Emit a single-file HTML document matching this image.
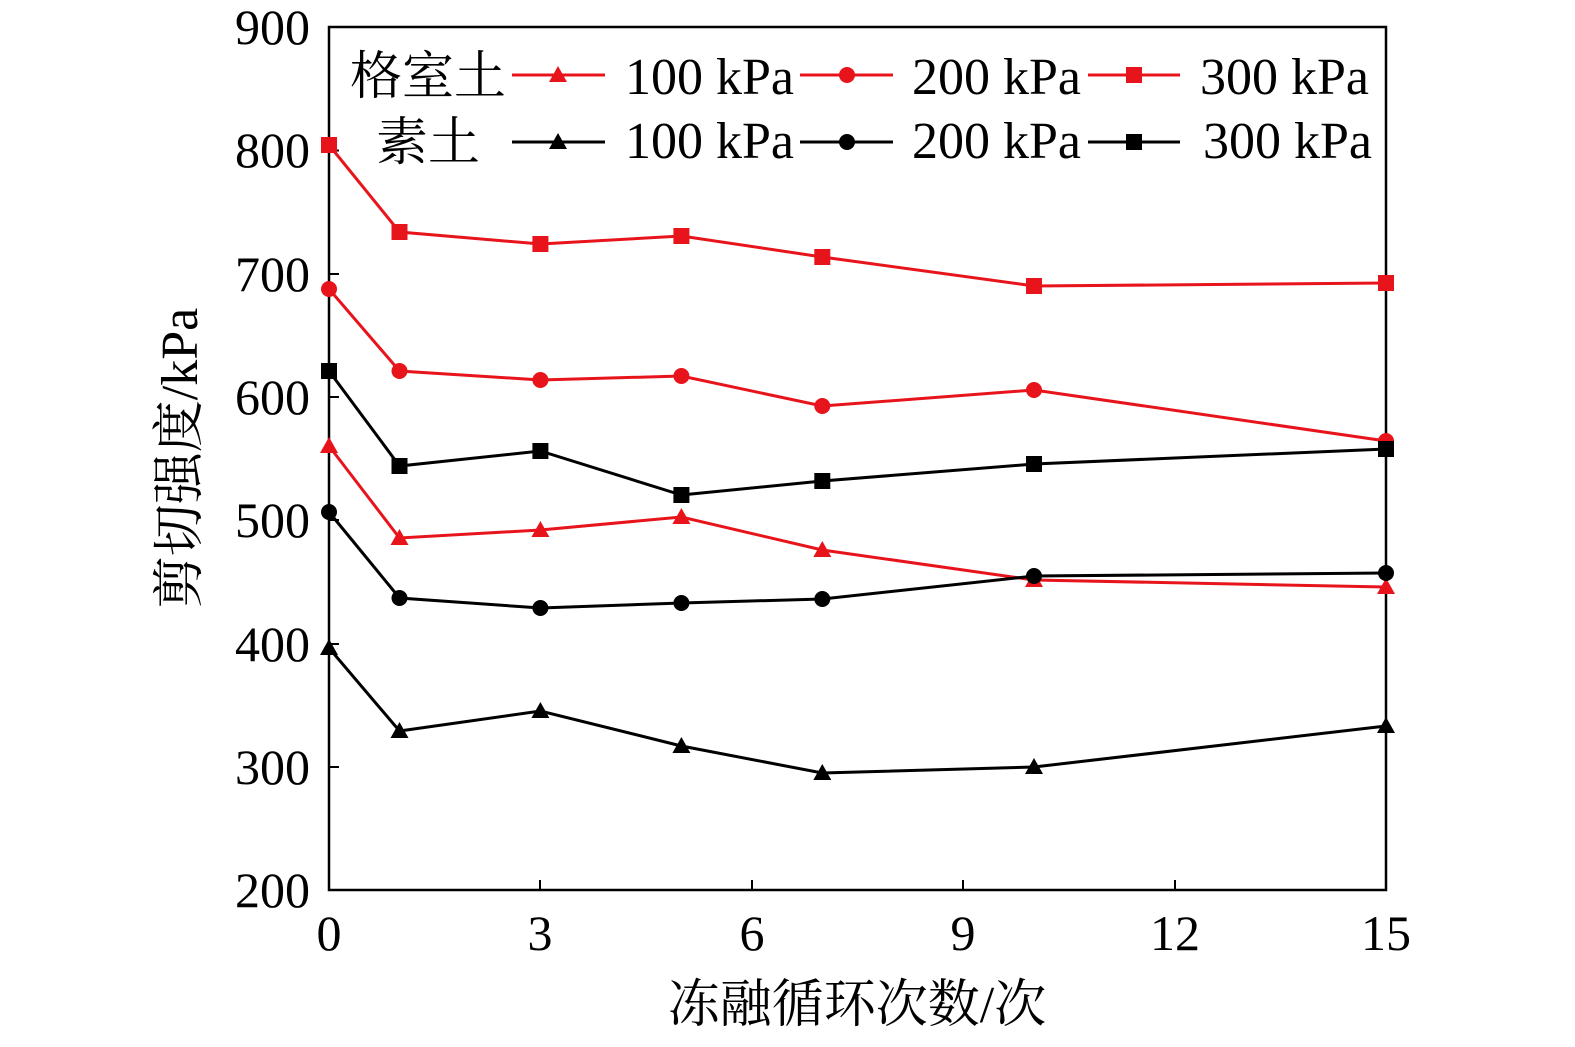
<!DOCTYPE html>
<html><head><meta charset="utf-8"><style>
html,body{margin:0;padding:0;background:#fff;}
svg text{font-family:"Liberation Serif","Noto Serif CJK SC",serif;fill:#000;}
</style></head><body>
<svg width="1575" height="1042" viewBox="0 0 1575 1042" xmlns="http://www.w3.org/2000/svg">
<defs>
<path id="tri" d="M-9,7 L9,7 L0,-9 Z"/>
</defs>
<rect x="329" y="27" width="1057" height="863" fill="none" stroke="#000" stroke-width="2.5"/>
<g stroke="#000" stroke-width="2">
<line x1="329" y1="150.5" x2="339" y2="150.5"/>
<line x1="329" y1="274" x2="339" y2="274"/>
<line x1="329" y1="397" x2="339" y2="397"/>
<line x1="329" y1="520" x2="339" y2="520"/>
<line x1="329" y1="644" x2="339" y2="644"/>
<line x1="329" y1="767" x2="339" y2="767"/>
<line x1="540" y1="890" x2="540" y2="880"/>
<line x1="752" y1="890" x2="752" y2="880"/>
<line x1="963" y1="890" x2="963" y2="880"/>
<line x1="1175" y1="890" x2="1175" y2="880"/>
</g>
<g font-size="50" text-anchor="end">
<text x="310" y="44">900</text>
<text x="310" y="167">800</text>
<text x="310" y="291">700</text>
<text x="310" y="414">600</text>
<text x="310" y="537">500</text>
<text x="310" y="661">400</text>
<text x="310" y="784">300</text>
<text x="310" y="907">200</text>
</g>
<g font-size="50" text-anchor="middle">
<text x="329" y="950">0</text>
<text x="540" y="950">3</text>
<text x="752" y="950">6</text>
<text x="963" y="950">9</text>
<text x="1175" y="950">12</text>
<text x="1386" y="950">15</text>
</g>
<text x="857" y="1022" font-size="52" text-anchor="middle">冻融循环次数/次</text>
<text transform="translate(197,458) rotate(-90)" font-size="52" text-anchor="middle">剪切强度/kPa</text>

<g fill="none" stroke="#e8141c" stroke-width="3">
<polyline points="329,145 399.5,232 540.4,244 681.4,236 822.3,257 1034,286 1386,283"/>
<polyline points="329,289 399.5,371 540.4,380 681.4,376 822.3,406 1034,390 1386,441"/>
<polyline points="329,446 399.5,538 540.4,530 681.4,517 822.3,550 1034,580 1386,587"/>
</g>
<g fill="#e8141c">
<rect x="321" y="137" width="16" height="16"/><rect x="391.5" y="224" width="16" height="16"/><rect x="532.4" y="236" width="16" height="16"/><rect x="673.4" y="228" width="16" height="16"/><rect x="814.3" y="249" width="16" height="16"/><rect x="1026" y="278" width="16" height="16"/><rect x="1378" y="275" width="16" height="16"/>
<circle cx="329" cy="289" r="8"/><circle cx="399.5" cy="371" r="8"/><circle cx="540.4" cy="380" r="8"/><circle cx="681.4" cy="376" r="8"/><circle cx="822.3" cy="406" r="8"/><circle cx="1034" cy="390" r="8"/><circle cx="1386" cy="441" r="8"/>
<use href="#tri" x="329" y="446"/><use href="#tri" x="399.5" y="538"/><use href="#tri" x="540.4" y="530"/><use href="#tri" x="681.4" y="517"/><use href="#tri" x="822.3" y="550"/><use href="#tri" x="1034" y="580"/><use href="#tri" x="1386" y="587"/>
</g>
<g fill="none" stroke="#000" stroke-width="3">
<polyline points="329,371 399.5,466 540.4,451 681.4,495 822.3,481 1034,464 1386,449"/>
<polyline points="329,512 399.5,598 540.4,608 681.4,603 822.3,599 1034,576 1386,573"/>
<polyline points="329,648 399.5,731 540.4,711 681.4,746 822.3,773 1034,767 1386,726"/>
</g>
<g fill="#000">
<rect x="321" y="363" width="16" height="16"/><rect x="391.5" y="458" width="16" height="16"/><rect x="532.4" y="443" width="16" height="16"/><rect x="673.4" y="487" width="16" height="16"/><rect x="814.3" y="473" width="16" height="16"/><rect x="1026" y="456" width="16" height="16"/><rect x="1378" y="441" width="16" height="16"/>
<circle cx="329" cy="512" r="8"/><circle cx="399.5" cy="598" r="8"/><circle cx="540.4" cy="608" r="8"/><circle cx="681.4" cy="603" r="8"/><circle cx="822.3" cy="599" r="8"/><circle cx="1034" cy="576" r="8"/><circle cx="1386" cy="573" r="8"/>
<use href="#tri" x="329" y="648"/><use href="#tri" x="399.5" y="731"/><use href="#tri" x="540.4" y="711"/><use href="#tri" x="681.4" y="746"/><use href="#tri" x="822.3" y="773"/><use href="#tri" x="1034" y="767"/><use href="#tri" x="1386" y="726"/>
</g>

<g font-size="52">
<text x="350" y="94">格室土</text>
<text x="376" y="160">素土</text>
<text x="625" y="94">100 kPa</text>
<text x="912" y="94">200 kPa</text>
<text x="1200" y="94">300 kPa</text>
<text x="625" y="158">100 kPa</text>
<text x="912" y="158">200 kPa</text>
<text x="1203" y="158">300 kPa</text>
</g>
<g stroke="#e8141c" stroke-width="3">
<line x1="512" y1="75" x2="605" y2="75"/><line x1="800" y1="75" x2="893" y2="75"/><line x1="1088" y1="75" x2="1180" y2="75"/>
</g>
<g fill="#e8141c">
<use href="#tri" x="558" y="75"/><circle cx="847" cy="75" r="8"/><rect x="1126" y="67" width="16" height="16"/>
</g>
<g stroke="#000" stroke-width="3">
<line x1="512" y1="142" x2="605" y2="142"/><line x1="800" y1="142" x2="893" y2="142"/><line x1="1088" y1="142" x2="1180" y2="142"/>
</g>
<g fill="#000">
<use href="#tri" x="558" y="142"/><circle cx="847" cy="142" r="8"/><rect x="1126" y="134" width="16" height="16"/>
</g>
</svg>
</body></html>
